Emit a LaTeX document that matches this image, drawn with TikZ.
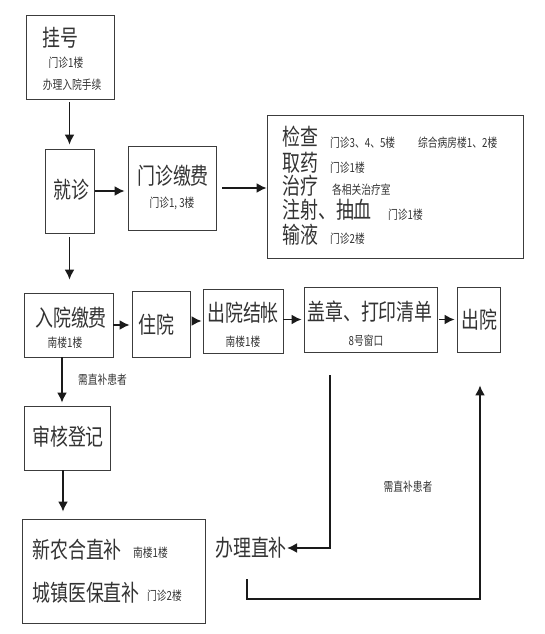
\documentclass[tikz,border=0pt]{standalone}
\usepackage{fontspec}
\newfontfamily\cjk[FakeStretch=0.78]{Noto Sans CJK SC}
\usetikzlibrary{arrows.meta,positioning}

\begin{document}
\begin{tikzpicture}[
    x=1pt, y=-1pt,
    every node/.style={font=\cjk, text=inkgray},
    stepbox/.style={draw=boxedge, line width=0.9pt, inner sep=0pt},
    bigtext/.style={font=\cjk\fontsize{23}{24}\selectfont, inner sep=0pt},
    smalltext/.style={font=\cjk\fontsize{12.5}{14}\selectfont, inner sep=0pt},
    flow/.style={line width=1.6pt, -{Latex[length=10pt, width=10pt]}, arrowink},
  ]
    \definecolor{inkgray}{HTML}{333333}
    \definecolor{boxedge}{HTML}{3c3c3c}
    \definecolor{arrowink}{HTML}{1a1a1a}

    \useasboundingbox (0,0) rectangle (544,634);

    % -------- outpatient column --------
    \node[stepbox, minimum width=88pt, minimum height=84pt] (guahao) at (70,57) {};
    \node[bigtext] (guahaoT) at (60,38) {挂号};
    \node[smalltext] (guahaoA) at (66,63) {门诊1楼};
    \node[smalltext] (guahaoB) at (72,85) {办理入院手续};

    \node[stepbox, minimum width=49pt, minimum height=84pt] (jiuzhen) at (69.5,191) {};
    \node[bigtext] (jiuzhenT) at (71,190) {就诊};

    \node[stepbox, minimum width=88pt, minimum height=84pt] (mzjf) at (172,188) {};
    \node[bigtext] (mzjfT) at (173,176) {门诊缴费};
    \node[smalltext] (mzjfA) at (172,203) {门诊1, 3楼};

    % -------- examination box --------
    \node[stepbox, minimum width=256pt, minimum height=143pt] (jiancha) at (395,186.5) {};
    \foreach \name/\ypos/\txt in {jcA/137/检查, jcB/163/取药, jcC/186/治疗, jcD/210/注射、抽血, jcE/235/输液} {
      \node[bigtext, anchor=west] (\name) at (282,\ypos) {\txt};
    }
    \foreach \name/\xpos/\ypos/\txt in {jcsA/330/143/门诊3、4、5楼, jcsB/418/143/综合病房楼1、2楼,
        jcsC/330/168/门诊1楼, jcsD/332/190/各相关治疗室, jcsE/388/215/门诊1楼, jcsF/330/239/门诊2楼} {
      \node[smalltext, anchor=west] (\name) at (\xpos,\ypos) {\txt};
    }

    % -------- inpatient row --------
    \node[stepbox, minimum width=89pt, minimum height=64pt] (ryjf) at (68.5,325) {};
    \node[bigtext] (ryjfT) at (71,318) {入院缴费};
    \node[smalltext] (ryjfA) at (65,343) {南楼1楼};

    \node[stepbox, minimum width=58pt, minimum height=66pt] (zhuyuan) at (161,324) {};
    \node[bigtext] (zhuyuanT) at (156,325) {住院};

    \node[stepbox, minimum width=80pt, minimum height=64pt] (cyjz) at (243,321) {};
    \node[bigtext] (cyjzT) at (243,313) {出院结帐};
    \node[smalltext] (cyjzA) at (243,342) {南楼1楼};

    \node[stepbox, minimum width=133pt, minimum height=65pt] (gaizhang) at (370.5,319.5) {};
    \node[bigtext] (gaizhangT) at (370,312) {盖章、打印清单};
    \node[smalltext] (gaizhangA) at (366,341) {8号窗口};

    \node[stepbox, minimum width=43pt, minimum height=65pt] (chuyuan) at (478.5,319.5) {};
    \node[bigtext] (chuyuanT) at (479,320) {出院};

    % -------- direct subsidy --------
    \node[stepbox, minimum width=86pt, minimum height=64pt] (shenhe) at (67,438) {};
    \node[bigtext] (shenheT) at (68,437) {审核登记};

    \node[stepbox, minimum width=183pt, minimum height=104pt] (xnh) at (113.5,571) {};
    \node[bigtext, anchor=west] (xnhT) at (32,550) {新农合直补};
    \node[smalltext, anchor=west] (xnhA) at (133,553) {南楼1楼};
    \node[bigtext, anchor=west] (czT) at (32,593) {城镇医保直补};
    \node[smalltext, anchor=west] (czA) at (147,596) {门诊2楼};

    \node[bigtext] (banli) at (251,548) {办理直补};

    \node[smalltext, anchor=west] (needA) at (78,380) {需直补患者};
    \node[smalltext] (needB) at (408,487) {需直补患者};

    % -------- connectors --------
    \draw[flow, shorten <=3pt, shorten >=4pt] (jiuzhen.north |- guahao.south) -- (jiuzhen.north);
    \draw[flow, shorten <=1pt, shorten >=3pt] (jiuzhen.east) -- (mzjf.west |- jiuzhen.east);
    \draw[flow, shorten <=6pt, shorten >=0pt] (mzjf.east) -- (mzjf.east -| jiancha.west);
    \draw[flow, shorten <=4pt, shorten >=13pt] (jiuzhen.south) -- (jiuzhen.south |- ryjf.north);

    \draw[flow, shorten >=2pt] (ryjf.east) -- (ryjf.east -| zhuyuan.west);
    \draw[flow, shorten <=2pt, shorten >=1pt] (zhuyuan.east |- cyjz.east) -- (cyjz.west);
    \draw[flow, shorten >=2pt] (cyjz.east |- gaizhang.west) -- (gaizhang.west);
    \draw[flow, shorten <=2pt, shorten >=2pt] (gaizhang.east) -- (chuyuan.west);

    \draw[flow, shorten >=3pt] ([xshift=-5pt]shenhe.north |- ryjf.south) -- ([xshift=-5pt]shenhe.north);
    \draw[flow, shorten >=7pt] ([xshift=-4pt]shenhe.south) -- ([xshift=-4pt]shenhe.south |- xnh.north);

    \coordinate (splitA) at (330,375);
    \draw[flow] (splitA) |- (banli.east);

    \coordinate (splitB) at (247,579);
    \coordinate (turnB) at (480,599);
    \draw[flow, shorten >=33pt] (splitB) |- (turnB) -- (turnB |- chuyuan.south);
\end{tikzpicture}
\end{document}
